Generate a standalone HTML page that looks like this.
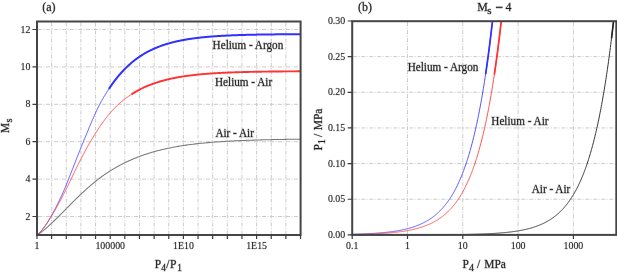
<!DOCTYPE html>
<html><head><meta charset="utf-8"><title>Shock tube performance</title>
<style>html,body{margin:0;padding:0;background:#fff;}body{width:617px;height:276px;overflow:hidden;font-family:"Liberation Serif",serif;}svg{display:block;filter:blur(0.55px);}</style>
</head><body>
<svg width="617" height="276" viewBox="0 0 617 276">
<rect width="617" height="276" fill="#fff"/>
<path d="M51.64,22.5 V234 M66.28,22.5 V234 M80.92,22.5 V234 M95.56,22.5 V234 M110.2,22.5 V234 M124.84,22.5 V234 M139.48,22.5 V234 M154.12,22.5 V234 M168.76,22.5 V234 M183.4,22.5 V234 M198.04,22.5 V234 M212.68,22.5 V234 M227.32,22.5 V234 M241.96,22.5 V234 M256.6,22.5 V234 M271.24,22.5 V234 M285.88,22.5 V234 M38,216.5 H299.6 M38,179.1 H299.6 M38,141.7 H299.6 M38,104.3 H299.6 M38,66.9 H299.6 M38,29.5 H299.6" stroke="#cbcbcb" stroke-width="1" stroke-dasharray="4,1.5,1,1.5" fill="none"/>
<path d="M407.5,22.2 V233.9 M462.8,22.2 V233.9 M518.1,22.2 V233.9 M573.4,22.2 V233.9 M353.2,199.25 H615.3 M353.2,163.6 H615.3 M353.2,127.95 H615.3 M353.2,92.3 H615.3 M353.2,56.65 H615.3" stroke="#cbcbcb" stroke-width="1" stroke-dasharray="4,1.5,1,1.5" fill="none"/>
<path d="M37,235.2 37.47,234.89 37.93,234.57 38.39,234.26 38.83,233.95 39.27,233.64 39.71,233.32 40.14,233.01 40.56,232.7 40.97,232.39 41.38,232.07 41.79,231.76 42.19,231.45 42.59,231.13 42.98,230.82 43.36,230.51 43.75,230.2 44.12,229.88 44.5,229.57 44.87,229.26 45.24,228.95 45.6,228.63 45.96,228.32 46.32,228.01 46.67,227.69 47.03,227.38 47.37,227.07 47.72,226.76 48.06,226.44 48.4,226.13 48.74,225.82 49.08,225.51 49.41,225.19 49.74,224.88 50.07,224.57 50.4,224.26 50.73,223.94 51.07,223.63 51.42,223.32 51.76,223 52.1,222.69 52.44,222.38 52.77,222.07 53.11,221.75 53.44,221.44 53.78,221.13 54.11,220.82 54.44,220.5 54.77,220.19 55.09,219.88 55.42,219.56 55.75,219.25 56.07,218.94 56.39,218.63 56.71,218.31 57.04,218 57.36,217.69 57.68,217.38 57.99,217.06 58.31,216.75 58.63,216.44 58.95,216.12 59.26,215.81 59.58,215.5 59.89,215.19 60.21,214.87 60.52,214.56 60.83,214.25 61.14,213.94 61.46,213.62 61.77,213.31 62.08,213 62.39,212.68 62.7,212.37 63.01,212.06 63.32,211.75 63.63,211.43 63.94,211.12 64.25,210.81 64.56,210.5 64.87,210.18 65.17,209.87 65.48,209.56 65.79,209.25 66.1,208.93 66.41,208.62 66.72,208.31 67.02,207.99 67.33,207.68 67.64,207.37 67.95,207.06 68.26,206.74 68.57,206.43 68.88,206.12 69.18,205.81 69.49,205.49 69.8,205.18 70.11,204.87 70.42,204.55 70.73,204.24 71.04,203.93 71.35,203.62 71.66,203.3 71.98,202.99 72.29,202.68 72.6,202.37 72.91,202.05 73.22,201.74 73.54,201.43 73.85,201.11 74.16,200.8 74.48,200.49 74.79,200.18 75.11,199.86 75.43,199.55 75.74,199.24 76.06,198.93 76.38,198.61 76.7,198.3 77.02,197.99 77.34,197.67 77.66,197.36 77.98,197.05 78.3,196.74 78.62,196.42 78.95,196.11 79.27,195.8 79.6,195.49 79.92,195.17 80.25,194.86 80.58,194.55 80.91,194.24 81.24,193.92 81.57,193.61 81.9,193.3 82.23,192.98 82.57,192.67 82.9,192.36 83.24,192.05 83.57,191.73 83.91,191.42 84.25,191.11 84.59,190.8 84.93,190.48 85.28,190.17 85.62,189.86 85.97,189.54 86.31,189.23 86.66,188.92 87.01,188.61 87.36,188.29 87.71,187.98 88.06,187.67 88.42,187.36 88.77,187.04 89.13,186.73 89.49,186.42 89.85,186.1 90.21,185.79 90.58,185.48 90.94,185.17 91.31,184.85 91.68,184.54 92.05,184.23 92.42,183.92 92.8,183.6 93.17,183.29 93.55,182.98 93.93,182.66 94.31,182.35 94.7,182.04 95.08,181.73 95.47,181.41 95.86,181.1 96.25,180.79 96.64,180.48 97.04,180.16 97.44,179.85 97.84,179.54 98.24,179.23 98.65,178.91 99.06,178.6 99.47,178.29 99.88,177.97 100.29,177.66 100.71,177.35 101.13,177.04 101.56,176.72 101.98,176.41 102.41,176.1 102.84,175.79 103.28,175.47 103.72,175.16 104.18,174.85 104.63,174.53 105.09,174.22 105.56,173.91 106.02,173.6 106.49,173.28 106.96,172.97 107.44,172.66 107.92,172.35 108.4,172.03 108.89,171.72 109.38,171.41 109.88,171.09 110.38,170.78 110.88,170.47 111.39,170.16 111.9,169.84 112.41,169.53 112.93,169.22 113.46,168.91 113.99,168.59 114.52,168.28 115.06,167.97 115.6,167.65 116.15,167.34 116.7,167.03 117.26,166.72 117.82,166.4 118.39,166.09 118.97,165.78 119.55,165.47 120.13,165.15 120.72,164.84 121.32,164.53 121.93,164.22 122.54,163.9 123.16,163.59 123.78,163.28 124.41,162.96 125.05,162.65 125.7,162.34 126.35,162.03 127.01,161.71 127.68,161.4 128.36,161.09 129.04,160.78 129.74,160.46 130.44,160.15 131.16,159.84 131.88,159.52 132.61,159.21 133.35,158.9 134.11,158.59 134.87,158.27 135.65,157.96 136.43,157.65 137.23,157.34 138.04,157.02 138.87,156.71 139.69,156.4 140.53,156.08 141.38,155.77 142.25,155.46 143.13,155.15 144.03,154.83 144.94,154.52 145.87,154.21 146.82,153.9 147.79,153.58 148.77,153.27 149.78,152.96 150.81,152.64 151.86,152.33 152.93,152.02 154.03,151.71 155.15,151.39 156.3,151.08 157.48,150.77 158.69,150.46 159.93,150.14 161.2,149.83 162.5,149.52 163.85,149.21 165.23,148.89 166.65,148.58 168.12,148.27 169.64,147.95 171.2,147.64 172.82,147.33 174.5,147.02 176.24,146.7 178.05,146.39 179.92,146.08 181.88,145.77 183.93,145.45 186.07,145.14 188.31,144.83 190.67,144.51 193.16,144.2 195.78,143.89 198.57,143.58 201.54,143.26 204.71,142.95 208.12,142.64 211.81,142.33 215.82,142.01 220.23,141.7 220.23,141.7 220.34,141.69 220.45,141.69 220.56,141.68 220.67,141.67 220.79,141.66 220.9,141.66 221.01,141.65 221.13,141.64 221.24,141.63 221.35,141.63 221.47,141.62 221.58,141.61 221.69,141.6 221.81,141.6 221.92,141.59 222.04,141.58 222.15,141.57 222.27,141.57 222.39,141.56 222.5,141.55 222.62,141.54 222.74,141.54 222.85,141.53 222.97,141.52 223.09,141.51 223.21,141.51 223.33,141.5 223.45,141.49 223.57,141.48 223.68,141.48 223.8,141.47 223.93,141.46 224.05,141.45 224.17,141.45 224.29,141.44 224.41,141.43 224.53,141.42 224.65,141.42 224.78,141.41 224.9,141.4 225.02,141.39 225.14,141.39 225.27,141.38 225.39,141.37 225.52,141.36 225.64,141.36 225.77,141.35 225.89,141.34 226.02,141.33 226.15,141.33 226.27,141.32 226.4,141.31 226.53,141.3 226.65,141.3 226.78,141.29 226.91,141.28 227.04,141.27 227.17,141.27 227.3,141.26 227.43,141.25 227.56,141.24 227.69,141.24 227.82,141.23 227.95,141.22 228.08,141.21 228.21,141.21 228.35,141.2 228.48,141.19 228.61,141.18 228.75,141.18 228.88,141.17 229.02,141.16 229.15,141.15 229.29,141.15 229.42,141.14 229.56,141.13 229.69,141.12 229.83,141.12 229.97,141.11 230.11,141.1 230.24,141.09 230.38,141.09 230.52,141.08 230.66,141.07 230.8,141.06 230.94,141.06 231.08,141.05 231.22,141.04 231.37,141.03 231.51,141.03 231.65,141.02 231.79,141.01 231.94,141 232.08,141 232.23,140.99 232.37,140.98 232.52,140.97 232.66,140.97 232.81,140.96 232.95,140.95 233.1,140.94 233.25,140.94 233.4,140.93 233.55,140.92 233.7,140.91 233.85,140.91 234,140.9 234.15,140.89 234.3,140.88 234.45,140.88 234.6,140.87 234.75,140.86 234.91,140.85 235.06,140.85 235.22,140.84 235.37,140.83 235.53,140.82 235.68,140.82 235.84,140.81 235.99,140.8 236.15,140.79 236.31,140.79 236.47,140.78 236.63,140.77 236.79,140.76 236.95,140.76 237.11,140.75 237.27,140.74 237.43,140.73 237.6,140.73 237.76,140.72 237.92,140.71 238.09,140.7 238.25,140.7 238.42,140.69 238.58,140.68 238.75,140.67 238.92,140.67 239.09,140.66 239.26,140.65 239.42,140.64 239.59,140.64 239.77,140.63 239.94,140.62 240.11,140.61 240.28,140.61 240.45,140.6 240.63,140.59 240.8,140.58 240.98,140.58 241.15,140.57 241.33,140.56 241.51,140.55 241.69,140.55 241.87,140.54 242.05,140.53 242.23,140.52 242.41,140.52 242.59,140.51 242.77,140.5 242.95,140.49 243.14,140.49 243.32,140.48 243.51,140.47 243.69,140.46 243.88,140.46 244.07,140.45 244.26,140.44 244.45,140.43 244.64,140.43 244.83,140.42 245.02,140.41 245.21,140.4 245.41,140.4 245.6,140.39 245.8,140.38 245.99,140.37 246.19,140.37 246.39,140.36 246.58,140.35 246.78,140.34 246.98,140.34 247.19,140.33 247.39,140.32 247.59,140.31 247.79,140.31 248,140.3 248.21,140.29 248.41,140.28 248.62,140.28 248.83,140.27 249.04,140.26 249.25,140.25 249.46,140.25 249.67,140.24 249.89,140.23 250.1,140.22 250.32,140.22 250.53,140.21 250.75,140.2 250.97,140.19 251.19,140.19 251.41,140.18 251.63,140.17 251.86,140.16 252.08,140.16 252.31,140.15 252.53,140.14 252.76,140.13 252.99,140.13 253.22,140.12 253.45,140.11 253.68,140.1 253.92,140.1 254.15,140.09 254.39,140.08 254.63,140.07 254.87,140.07 255.11,140.06 255.35,140.05 255.59,140.04 255.83,140.04 256.08,140.03 256.32,140.02 256.57,140.01 256.82,140.01 257.07,140 257.32,139.99 257.58,139.98 257.83,139.98 258.09,139.97 258.35,139.96 258.61,139.95 258.87,139.95 259.13,139.94 259.39,139.93 259.66,139.92 259.93,139.92 260.2,139.91 260.47,139.9 260.74,139.89 261.01,139.89 261.29,139.88 261.56,139.87 261.84,139.86 262.12,139.86 262.41,139.85 262.69,139.84 262.98,139.83 263.26,139.83 263.55,139.82 263.84,139.81 264.14,139.8 264.43,139.8 264.73,139.79 265.03,139.78 265.33,139.77 265.63,139.77 265.94,139.76 266.25,139.75 266.56,139.74 266.87,139.74 267.18,139.73 267.5,139.72 267.82,139.71 268.14,139.71 268.46,139.7 268.79,139.69 269.11,139.68 269.44,139.68 269.78,139.67 270.11,139.66 270.45,139.65 270.79,139.65 271.13,139.64 271.48,139.63 271.83,139.62 272.18,139.62 272.53,139.61 272.89,139.6 273.25,139.59 273.61,139.59 273.97,139.58 274.34,139.57 274.71,139.56 275.09,139.56 275.46,139.55 275.85,139.54 276.23,139.53 276.62,139.53 277.01,139.52 277.4,139.51 277.8,139.5 278.2,139.5 278.61,139.49 279.01,139.48 279.43,139.47 279.84,139.47 280.26,139.46 280.69,139.45 281.11,139.44 281.55,139.44 281.98,139.43 282.42,139.42 282.87,139.41 283.32,139.41 283.77,139.4 284.23,139.39 284.7,139.38 285.16,139.38 285.64,139.37 286.12,139.36 286.6,139.35 287.09,139.35 287.58,139.34 288.08,139.33 288.59,139.32 289.1,139.32 289.62,139.31 290.14,139.3 290.67,139.29 291.21,139.29 291.75,139.28 292.3,139.27 292.85,139.26 293.42,139.26 293.99,139.25 294.57,139.24 295.15,139.23 295.74,139.23 296.34,139.22 296.95,139.21 297.57,139.2 298.2,139.2 298.83,139.19 299.48,139.18 300.13,139.17" stroke="#787878" stroke-width="1.05" fill="none"/>
<path d="M37,235.2 37.7,234.56 38.37,233.92 39.01,233.28 39.63,232.63 40.22,231.99 40.8,231.35 41.36,230.71 41.9,230.07 42.42,229.43 42.93,228.78 43.43,228.14 43.92,227.5 44.39,226.86 44.86,226.22 45.31,225.58 45.75,224.93 46.19,224.29 46.61,223.65 47.03,223.01 47.44,222.37 47.85,221.73 48.24,221.09 48.63,220.44 49.02,219.8 49.4,219.16 49.77,218.52 50.14,217.88 50.5,217.24 50.86,216.59 51.23,215.95 51.6,215.31 51.97,214.67 52.33,214.03 52.69,213.39 53.05,212.74 53.4,212.1 53.75,211.46 54.1,210.82 54.44,210.18 54.78,209.54 55.12,208.9 55.45,208.25 55.78,207.61 56.11,206.97 56.44,206.33 56.76,205.69 57.08,205.05 57.4,204.4 57.72,203.76 58.04,203.12 58.35,202.48 58.66,201.84 58.97,201.2 59.28,200.55 59.59,199.91 59.89,199.27 60.2,198.63 60.5,197.99 60.8,197.35 61.1,196.7 61.4,196.06 61.69,195.42 61.99,194.78 62.28,194.14 62.58,193.5 62.87,192.86 63.16,192.21 63.45,191.57 63.74,190.93 64.03,190.29 64.31,189.65 64.6,189.01 64.88,188.36 65.14,187.72 65.4,187.08 65.66,186.44 65.92,185.8 66.18,185.16 66.44,184.51 66.7,183.87 66.95,183.23 67.21,182.59 67.46,181.95 67.72,181.31 67.97,180.67 68.23,180.02 68.48,179.38 68.74,178.74 68.99,178.1 69.24,177.46 69.49,176.82 69.74,176.17 70,175.53 70.25,174.89 70.5,174.25 70.75,173.61 71,172.97 71.25,172.32 71.5,171.68 71.75,171.04 72,170.4 72.25,169.76 72.5,169.12 72.75,168.48 73,167.83 73.25,167.19 73.5,166.55 73.75,165.91 74,165.27 74.25,164.63 74.5,163.98 74.75,163.34 75,162.7 75.25,162.06 75.5,161.42 75.75,160.78 76,160.13 76.26,159.49 76.51,158.85 76.76,158.21 77.01,157.57 77.26,156.93 77.51,156.29 77.77,155.64 78.02,155 78.27,154.36 78.53,153.72 78.78,153.08 79.04,152.44 79.29,151.79 79.55,151.15 79.8,150.51 80.06,149.87 80.31,149.23 80.57,148.59 80.83,147.94 81.09,147.3 81.35,146.66 81.61,146.02 81.87,145.38 82.13,144.74 82.39,144.09 82.65,143.45 82.91,142.81 83.17,142.17 83.44,141.53 83.7,140.89 83.97,140.25 84.23,139.6 84.5,138.96 84.77,138.32 85.04,137.68 85.31,137.04 85.58,136.4 85.85,135.75 86.12,135.11 86.39,134.47 86.67,133.83 86.94,133.19 87.22,132.55 87.48,131.9 87.73,131.26 87.99,130.62 88.24,129.98 88.5,129.34 88.76,128.7 89.02,128.06 89.28,127.41 89.55,126.77 89.81,126.13 90.07,125.49 90.34,124.85 90.61,124.21 90.88,123.56 91.15,122.92 91.42,122.28 91.69,121.64 91.97,121 92.24,120.36 92.52,119.71 92.8,119.07 93.08,118.43 93.36,117.79 93.64,117.15 93.93,116.51 94.22,115.87 94.5,115.22 94.79,114.58 95.09,113.94 95.38,113.3 95.68,112.66 95.97,112.02 96.27,111.37 96.57,110.73 96.88,110.09 97.18,109.45 97.49,108.81 97.8,108.17 98.11,107.52 98.43,106.88 98.74,106.24 99.06,105.6 99.38,104.96 99.7,104.32 100.05,103.68 100.4,103.03 100.76,102.39 101.11,101.75 101.47,101.11 101.83,100.47 102.2,99.83 102.56,99.18 102.93,98.54 103.31,97.9 103.68,97.26 104.06,96.62 104.45,95.98 104.83,95.33 105.22,94.69 105.61,94.05 106.01,93.41 106.41,92.77 106.81,92.13 107.22,91.48 107.63,90.84 108.04,90.2 108.46,89.56 108.88,88.92 109.31,88.28 109.74,87.64" stroke="#5050ff" stroke-width="1.0" fill="none"/>
<path d="M37,235.2 37.56,234.68 38.1,234.17 38.63,233.65 39.14,233.13 39.64,232.61 40.12,232.1 40.6,231.58 41.06,231.06 41.51,230.54 41.95,230.03 42.38,229.51 42.8,228.99 43.21,228.47 43.62,227.96 44.02,227.44 44.41,226.92 44.8,226.4 45.17,225.89 45.55,225.37 45.91,224.85 46.28,224.33 46.63,223.82 46.99,223.3 47.33,222.78 47.68,222.26 48.02,221.75 48.35,221.23 48.68,220.71 49.01,220.19 49.33,219.68 49.65,219.16 49.97,218.64 50.28,218.12 50.6,217.61 50.9,217.09 51.21,216.57 51.53,216.05 51.85,215.54 52.16,215.02 52.48,214.5 52.79,213.99 53.1,213.47 53.41,212.95 53.71,212.43 54.02,211.92 54.32,211.4 54.62,210.88 54.92,210.36 55.21,209.85 55.51,209.33 55.8,208.81 56.09,208.29 56.38,207.78 56.67,207.26 56.96,206.74 57.25,206.22 57.53,205.71 57.82,205.19 58.1,204.67 58.38,204.15 58.67,203.64 58.95,203.12 59.23,202.6 59.5,202.08 59.78,201.57 60.06,201.05 60.33,200.53 60.61,200.01 60.88,199.5 61.16,198.98 61.43,198.46 61.7,197.94 61.97,197.43 62.24,196.91 62.51,196.39 62.78,195.88 63.05,195.36 63.32,194.84 63.59,194.32 63.86,193.81 64.13,193.29 64.39,192.77 64.66,192.25 64.93,191.74 65.19,191.22 65.46,190.7 65.73,190.18 65.99,189.67 66.26,189.15 66.52,188.63 66.77,188.11 67.02,187.6 67.27,187.08 67.51,186.56 67.76,186.04 68.01,185.53 68.25,185.01 68.5,184.49 68.74,183.97 68.99,183.46 69.23,182.94 69.48,182.42 69.73,181.9 69.97,181.39 70.22,180.87 70.46,180.35 70.71,179.83 70.96,179.32 71.2,178.8 71.45,178.28 71.7,177.76 71.94,177.25 72.19,176.73 72.44,176.21 72.69,175.7 72.93,175.18 73.18,174.66 73.43,174.14 73.68,173.63 73.93,173.11 74.18,172.59 74.43,172.07 74.68,171.56 74.93,171.04 75.18,170.52 75.43,170 75.69,169.49 75.94,168.97 76.19,168.45 76.45,167.93 76.7,167.42 76.95,166.9 77.21,166.38 77.46,165.86 77.72,165.35 77.98,164.83 78.24,164.31 78.49,163.79 78.75,163.28 79.01,162.76 79.27,162.24 79.53,161.72 79.79,161.21 80.06,160.69 80.32,160.17 80.58,159.65 80.85,159.14 81.11,158.62 81.38,158.1 81.65,157.58 81.92,157.07 82.18,156.55 82.45,156.03 82.73,155.52 83,155 83.27,154.48 83.54,153.96 83.82,153.45 84.09,152.93 84.37,152.41 84.65,151.89 84.93,151.38 85.21,150.86 85.49,150.34 85.77,149.82 86.05,149.31 86.34,148.79 86.62,148.27 86.91,147.75 87.2,147.24 87.49,146.72 87.78,146.2 88.07,145.68 88.37,145.17 88.66,144.65 88.96,144.13 89.26,143.61 89.56,143.1 89.86,142.58 90.16,142.06 90.46,141.54 90.77,141.03 91.08,140.51 91.38,139.99 91.69,139.47 92.01,138.96 92.32,138.44 92.64,137.92 92.95,137.41 93.27,136.89 93.59,136.37 93.92,135.85 94.24,135.34 94.57,134.82 94.9,134.3 95.23,133.78 95.56,133.27 95.9,132.75 96.23,132.23 96.55,131.71 96.88,131.2 97.2,130.68 97.53,130.16 97.86,129.64 98.2,129.13 98.53,128.61 98.87,128.09 99.21,127.57 99.56,127.06 99.9,126.54 100.25,126.02 100.6,125.5 100.96,124.99 101.32,124.47 101.68,123.95 102.04,123.43 102.41,122.92 102.78,122.4 103.15,121.88 103.53,121.36 103.91,120.85 104.3,120.33 104.68,119.81 105.07,119.29 105.47,118.78 105.87,118.26 106.27,117.74 106.68,117.23 107.09,116.71 107.51,116.19 107.92,115.67 108.35,115.16 108.78,114.64 109.21,114.12 109.65,113.6 110.09,113.09 110.54,112.57 110.99,112.05 111.45,111.53 111.92,111.02 112.39,110.5 112.86,109.98 113.34,109.46 113.83,108.95 114.33,108.43 114.83,107.91 115.33,107.39 115.85,106.88 116.37,106.36 116.89,105.84 117.43,105.32 117.97,104.81 118.52,104.29 119.1,103.77 119.69,103.25 120.28,102.74 120.89,102.22 121.5,101.7 122.12,101.18 122.76,100.67 123.4,100.15 124.05,99.63 124.72,99.11 125.4,98.6 126.08,98.08 126.79,97.56 127.5,97.05 128.23,96.53 128.97,96.01 129.73,95.49 130.5,94.98 131.29,94.46" stroke="#ff5050" stroke-width="1.0" fill="none"/>
<path d="M108.88,88.92 109.31,88.28 109.74,87.64 110.18,86.99 110.61,86.35 111.06,85.71 111.51,85.07 111.96,84.43 112.42,83.79 112.89,83.14 113.36,82.5 113.83,81.86 114.31,81.22 114.8,80.58 115.29,79.94 115.79,79.29 116.29,78.65 116.81,78.01 117.32,77.37 117.85,76.73 118.38,76.09 118.92,75.45 119.47,74.8 120.02,74.16 120.59,73.52 121.16,72.88 121.74,72.24 122.32,71.6 122.92,70.95 123.53,70.31 124.15,69.67 124.77,69.03 125.41,68.39 126.06,67.75 126.72,67.1 127.4,66.46 128.08,65.82 128.78,65.18 129.49,64.54 130.22,63.9 130.96,63.26 131.71,62.61 132.48,61.97 133.27,61.33 134.08,60.69 134.9,60.05 135.75,59.41 136.61,58.76 137.5,58.12 138.41,57.48 139.34,56.84 140.3,56.2 141.28,55.56 142.3,54.91 143.34,54.27 144.41,53.63 145.52,52.99 146.67,52.35 147.86,51.71 149.08,51.07 150.36,50.42 151.68,49.78 153.06,49.14 154.49,48.5 155.99,47.86 157.55,47.22 159.2,46.57 160.92,45.93 162.74,45.29 164.66,44.65 166.71,44.01 168.88,43.37 168.88,43.37 168.93,43.35 168.99,43.33 169.04,43.32 169.1,43.3 169.15,43.29 169.21,43.27 169.26,43.26 169.32,43.24 169.37,43.23 169.43,43.21 169.49,43.19 169.54,43.18 169.6,43.16 169.65,43.15 169.71,43.13 169.77,43.12 169.82,43.1 169.88,43.09 169.93,43.07 169.99,43.05 170.05,43.04 170.1,43.02 170.16,43.01 170.22,42.99 170.27,42.98 170.33,42.96 170.39,42.94 170.45,42.93 170.5,42.91 170.56,42.9 170.62,42.88 170.68,42.87 170.73,42.85 170.79,42.84 170.85,42.82 170.91,42.8 170.96,42.79 171.02,42.77 171.08,42.76 171.14,42.74 171.2,42.73 171.26,42.71 171.32,42.69 171.37,42.68 171.43,42.66 171.49,42.65 171.55,42.63 171.61,42.62 171.67,42.6 171.73,42.59 171.79,42.57 171.85,42.55 171.91,42.54 171.97,42.52 172.03,42.51 172.09,42.49 172.15,42.48 172.21,42.46 172.27,42.45 172.33,42.43 172.39,42.41 172.45,42.4 172.51,42.38 172.57,42.37 172.64,42.35 172.7,42.34 172.76,42.32 172.82,42.3 172.88,42.29 172.94,42.27 173,42.26 173.07,42.24 173.13,42.23 173.19,42.21 173.25,42.2 173.32,42.18 173.38,42.16 173.44,42.15 173.5,42.13 173.57,42.12 173.63,42.1 173.69,42.09 173.76,42.07 173.82,42.05 173.88,42.04 173.95,42.02 174.01,42.01 174.07,41.99 174.14,41.98 174.2,41.96 174.27,41.95 174.33,41.93 174.39,41.91 174.46,41.9 174.52,41.88 174.59,41.87 174.65,41.85 174.72,41.84 174.78,41.82 174.85,41.81 174.91,41.79 174.98,41.77 175.05,41.76 175.11,41.74 175.18,41.73 175.24,41.71 175.31,41.7 175.38,41.68 175.44,41.66 175.51,41.65 175.58,41.63 175.64,41.62 175.71,41.6 175.78,41.59 175.84,41.57 175.91,41.56 175.98,41.54 176.05,41.52 176.12,41.51 176.18,41.49 176.25,41.48 176.32,41.46 176.39,41.45 176.46,41.43 176.53,41.41 176.59,41.4 176.66,41.38 176.73,41.37 176.8,41.35 176.87,41.34 176.94,41.32 177.01,41.31 177.08,41.29 177.15,41.27 177.22,41.26 177.29,41.24 177.36,41.23 177.43,41.21 177.5,41.2 177.57,41.18 177.65,41.17 177.72,41.15 177.79,41.13 177.86,41.12 177.93,41.1 178,41.09 178.08,41.07 178.15,41.06 178.22,41.04 178.29,41.02 178.37,41.01 178.44,40.99 178.51,40.98 178.58,40.96 178.66,40.95 178.73,40.93 178.8,40.92 178.88,40.9 178.95,40.88 179.03,40.87 179.1,40.85 179.18,40.84 179.25,40.82 179.32,40.81 179.4,40.79 179.47,40.77 179.55,40.76 179.63,40.74 179.7,40.73 179.78,40.71 179.85,40.7 179.93,40.68 180.01,40.67 180.08,40.65 180.16,40.63 180.24,40.62 180.31,40.6 180.39,40.59 180.47,40.57 180.55,40.56 180.62,40.54 180.7,40.53 180.78,40.51 180.86,40.49 180.94,40.48 181.01,40.46 181.09,40.45 181.17,40.43 181.25,40.42 181.33,40.4 181.41,40.38 181.49,40.37 181.57,40.35 181.65,40.34 181.73,40.32 181.81,40.31 181.89,40.29 181.97,40.28 182.06,40.26 182.14,40.24 182.22,40.23 182.3,40.21 182.38,40.2 182.47,40.18 182.55,40.17 182.63,40.15 182.71,40.13 182.8,40.12 182.88,40.1 182.96,40.09 183.05,40.07 183.13,40.06 183.22,40.04 183.3,40.03 183.38,40.01 183.47,39.99 183.55,39.98 183.64,39.96 183.72,39.95 183.81,39.93 183.9,39.92 183.98,39.9 184.07,39.89 184.16,39.87 184.24,39.85 184.33,39.84 184.42,39.82 184.5,39.81 184.59,39.79 184.68,39.78 184.77,39.76 184.86,39.74 184.95,39.73 185.03,39.71 185.12,39.7 185.21,39.68 185.3,39.67 185.39,39.65 185.48,39.64 185.57,39.62 185.66,39.6 185.75,39.59 185.85,39.57 185.94,39.56 186.03,39.54 186.12,39.53 186.21,39.51 186.31,39.5 186.4,39.48 186.49,39.46 186.58,39.45 186.68,39.43 186.77,39.42 186.87,39.4 186.96,39.39 187.05,39.37 187.15,39.35 187.24,39.34 187.34,39.32 187.44,39.31 187.53,39.29 187.63,39.28 187.72,39.26 187.82,39.25 187.92,39.23 188.02,39.21 188.11,39.2 188.21,39.18 188.31,39.17 188.41,39.15 188.51,39.14 188.61,39.12 188.71,39.1 188.81,39.09 188.91,39.07 189.01,39.06 189.11,39.04 189.21,39.03 189.31,39.01 189.41,39 189.51,38.98 189.62,38.96 189.72,38.95 189.82,38.93 189.92,38.92 190.03,38.9 190.13,38.89 190.24,38.87 190.34,38.86 190.44,38.84 190.55,38.82 190.66,38.81 190.76,38.79 190.87,38.78 190.97,38.76 191.08,38.75 191.19,38.73 191.3,38.71 191.4,38.7 191.51,38.68 191.62,38.67 191.73,38.65 191.84,38.64 191.95,38.62 192.06,38.61 192.17,38.59 192.28,38.57 192.39,38.56 192.5,38.54 192.62,38.53 192.73,38.51 192.84,38.5 192.95,38.48 193.07,38.46 193.18,38.45 193.3,38.43 193.41,38.42 193.53,38.4 193.64,38.39 193.76,38.37 193.88,38.36 193.99,38.34 194.11,38.32 194.23,38.31 194.35,38.29 194.46,38.28 194.58,38.26 194.7,38.25 194.82,38.23 194.94,38.22 195.06,38.2 195.18,38.18 195.31,38.17 195.43,38.15 195.55,38.14 195.67,38.12 195.8,38.11 195.92,38.09 196.05,38.07 196.17,38.06 196.3,38.04 196.42,38.03 196.55,38.01 196.68,38 196.8,37.98 196.93,37.97 197.06,37.95 197.19,37.93 197.32,37.92 197.45,37.9 197.58,37.89 197.71,37.87 197.84,37.86 197.97,37.84 198.1,37.82 198.24,37.81 198.37,37.79 198.5,37.78 198.64,37.76 198.77,37.75 198.91,37.73 199.05,37.72 199.18,37.7 199.32,37.68 199.46,37.67 199.6,37.65 199.74,37.64 199.88,37.62 200.02,37.61 200.16,37.59 200.3,37.58 200.44,37.56 200.59,37.54 200.73,37.53 200.87,37.51 201.02,37.5 201.16,37.48 201.31,37.47 201.46,37.45 201.61,37.43 201.75,37.42 201.9,37.4 202.05,37.39 202.2,37.37 202.35,37.36 202.5,37.34 202.66,37.33 202.81,37.31 202.96,37.29 203.12,37.28 203.27,37.26 203.43,37.25 203.59,37.23 203.74,37.22 203.9,37.2 204.06,37.18 204.22,37.17 204.38,37.15 204.54,37.14 204.71,37.12 204.87,37.11 205.03,37.09 205.2,37.08 205.36,37.06 205.53,37.04 205.7,37.03 205.86,37.01 206.03,37 206.2,36.98 206.37,36.97 206.54,36.95 206.72,36.94 206.89,36.92 207.07,36.9 207.24,36.89 207.42,36.87 207.59,36.86 207.77,36.84 207.95,36.83 208.13,36.81 208.31,36.79 208.5,36.78 208.68,36.76 208.86,36.75 209.05,36.73 209.23,36.72 209.42,36.7 209.61,36.69 209.8,36.67 209.99,36.65 210.18,36.64 210.38,36.62 210.57,36.61 210.77,36.59 210.96,36.58 211.16,36.56 211.36,36.54 211.56,36.53 211.76,36.51 211.96,36.5 212.17,36.48 212.37,36.47 212.58,36.45 212.79,36.44 213,36.42 213.21,36.4 213.42,36.39 213.63,36.37 213.85,36.36 214.06,36.34 214.28,36.33 214.5,36.31 214.72,36.3 214.94,36.28 215.17,36.26 215.39,36.25 215.62,36.23 215.85,36.22 216.08,36.2 216.31,36.19 216.54,36.17 216.77,36.15 217.01,36.14 217.25,36.12 217.49,36.11 217.73,36.09 217.98,36.08 218.22,36.06 218.47,36.05 218.72,36.03 218.97,36.01 219.22,36 219.48,35.98 219.74,35.97 220,35.95 220.26,35.94 220.52,35.92 220.79,35.9 221.05,35.89 221.32,35.87 221.6,35.86 221.87,35.84 222.15,35.83 222.43,35.81 222.71,35.8 222.99,35.78 223.28,35.76 223.57,35.75 223.86,35.73 224.16,35.72 224.46,35.7 224.76,35.69 225.06,35.67 225.36,35.66 225.67,35.64 225.99,35.62 226.3,35.61 226.62,35.59 226.94,35.58 227.26,35.56 227.59,35.55 227.92,35.53 228.26,35.51 228.59,35.5 228.94,35.48 229.28,35.47 229.63,35.45 229.98,35.44 230.34,35.42 230.7,35.41 231.06,35.39 231.43,35.37 231.81,35.36 232.18,35.34 232.56,35.33 232.95,35.31 233.34,35.3 233.74,35.28 234.14,35.26 234.54,35.25 234.96,35.23 235.37,35.22 235.79,35.2 236.22,35.19 236.65,35.17 237.09,35.16 237.54,35.14 237.99,35.12 238.44,35.11 238.91,35.09 239.38,35.08 239.86,35.06 240.34,35.05 240.83,35.03 241.33,35.02 241.84,35 242.36,34.98 242.88,34.97 243.41,34.95 243.96,34.94 244.51,34.92 245.07,34.91 245.64,34.89 246.22,34.87 246.81,34.86 247.41,34.84 248.03,34.83 248.65,34.81 249.29,34.8 249.94,34.78 250.61,34.77 251.29,34.75 251.98,34.73 252.69,34.72 253.41,34.7 254.15,34.69 254.91,34.67 255.69,34.66 256.48,34.64 257.3,34.62 258.13,34.61 258.99,34.59 259.88,34.58 260.78,34.56 261.72,34.55 262.68,34.53 263.67,34.52 264.69,34.5 265.75,34.48 266.84,34.47 267.97,34.45 269.14,34.44 270.36,34.42 271.62,34.41 272.94,34.39 274.31,34.38 275.74,34.36 277.24,34.34 278.81,34.33 280.46,34.31 282.2,34.3 284.04,34.28 285.99,34.27 288.07,34.25 290.29,34.23 292.68,34.22 295.25,34.2 298.05,34.19 300.6,34.17" stroke="#3030ff" stroke-width="2.0" fill="none"/>
<path d="M131.29,94.46 132.09,93.94 132.91,93.42 133.75,92.91 134.61,92.39 135.49,91.87 136.39,91.35 137.32,90.84 138.26,90.32 139.24,89.8 140.23,89.28 141.26,88.77 142.31,88.25 143.4,87.73 144.52,87.21 145.67,86.7 146.87,86.18 148.1,85.66 149.38,85.14 150.7,84.63 152.07,84.11 153.5,83.59 154.99,83.07 156.54,82.56 158.16,82.04 159.86,81.52 161.64,81 163.52,80.49 163.52,80.49 163.57,80.47 163.63,80.46 163.69,80.44 163.75,80.42 163.81,80.41 163.87,80.39 163.92,80.38 163.98,80.36 164.04,80.35 164.1,80.33 164.16,80.32 164.22,80.3 164.28,80.28 164.34,80.27 164.4,80.25 164.46,80.24 164.52,80.22 164.58,80.21 164.64,80.19 164.7,80.18 164.76,80.16 164.82,80.14 164.88,80.13 164.94,80.11 165,80.1 165.06,80.08 165.12,80.07 165.18,80.05 165.24,80.03 165.3,80.02 165.37,80 165.43,79.99 165.49,79.97 165.55,79.96 165.61,79.94 165.67,79.93 165.73,79.91 165.8,79.89 165.86,79.88 165.92,79.86 165.98,79.85 166.05,79.83 166.11,79.82 166.17,79.8 166.23,79.78 166.3,79.77 166.36,79.75 166.42,79.74 166.49,79.72 166.55,79.71 166.61,79.69 166.68,79.68 166.74,79.66 166.8,79.64 166.87,79.63 166.93,79.61 167,79.6 167.06,79.58 167.12,79.57 167.19,79.55 167.25,79.54 167.32,79.52 167.38,79.5 167.45,79.49 167.51,79.47 167.58,79.46 167.64,79.44 167.71,79.43 167.77,79.41 167.84,79.39 167.9,79.38 167.97,79.36 168.04,79.35 168.1,79.33 168.17,79.32 168.24,79.3 168.3,79.29 168.37,79.27 168.44,79.25 168.5,79.24 168.57,79.22 168.64,79.21 168.7,79.19 168.77,79.18 168.84,79.16 168.91,79.14 168.97,79.13 169.04,79.11 169.11,79.1 169.18,79.08 169.25,79.07 169.32,79.05 169.38,79.04 169.45,79.02 169.52,79 169.59,78.99 169.66,78.97 169.73,78.96 169.8,78.94 169.87,78.93 169.94,78.91 170.01,78.9 170.08,78.88 170.15,78.86 170.22,78.85 170.29,78.83 170.36,78.82 170.43,78.8 170.5,78.79 170.57,78.77 170.64,78.75 170.71,78.74 170.78,78.72 170.86,78.71 170.93,78.69 171,78.68 171.07,78.66 171.14,78.65 171.21,78.63 171.29,78.61 171.36,78.6 171.43,78.58 171.51,78.57 171.58,78.55 171.65,78.54 171.72,78.52 171.8,78.5 171.87,78.49 171.95,78.47 172.02,78.46 172.09,78.44 172.17,78.43 172.24,78.41 172.32,78.4 172.39,78.38 172.47,78.36 172.54,78.35 172.62,78.33 172.69,78.32 172.77,78.3 172.84,78.29 172.92,78.27 172.99,78.26 173.07,78.24 173.15,78.22 173.22,78.21 173.3,78.19 173.38,78.18 173.45,78.16 173.53,78.15 173.61,78.13 173.69,78.11 173.76,78.1 173.84,78.08 173.92,78.07 174,78.05 174.08,78.04 174.15,78.02 174.23,78.01 174.31,77.99 174.39,77.97 174.47,77.96 174.55,77.94 174.63,77.93 174.71,77.91 174.79,77.9 174.87,77.88 174.95,77.86 175.03,77.85 175.11,77.83 175.19,77.82 175.27,77.8 175.35,77.79 175.43,77.77 175.52,77.76 175.6,77.74 175.68,77.72 175.76,77.71 175.84,77.69 175.93,77.68 176.01,77.66 176.09,77.65 176.18,77.63 176.26,77.62 176.34,77.6 176.43,77.58 176.51,77.57 176.59,77.55 176.68,77.54 176.76,77.52 176.85,77.51 176.93,77.49 177.02,77.47 177.1,77.46 177.19,77.44 177.28,77.43 177.36,77.41 177.45,77.4 177.53,77.38 177.62,77.37 177.71,77.35 177.79,77.33 177.88,77.32 177.97,77.3 178.06,77.29 178.15,77.27 178.23,77.26 178.32,77.24 178.41,77.22 178.5,77.21 178.59,77.19 178.68,77.18 178.77,77.16 178.86,77.15 178.95,77.13 179.04,77.12 179.13,77.1 179.22,77.08 179.31,77.07 179.4,77.05 179.49,77.04 179.58,77.02 179.68,77.01 179.77,76.99 179.86,76.98 179.95,76.96 180.05,76.94 180.14,76.93 180.23,76.91 180.33,76.9 180.42,76.88 180.51,76.87 180.61,76.85 180.7,76.83 180.8,76.82 180.89,76.8 180.99,76.79 181.08,76.77 181.18,76.76 181.28,76.74 181.37,76.73 181.47,76.71 181.57,76.69 181.66,76.68 181.76,76.66 181.86,76.65 181.96,76.63 182.06,76.62 182.15,76.6 182.25,76.58 182.35,76.57 182.45,76.55 182.55,76.54 182.65,76.52 182.75,76.51 182.85,76.49 182.95,76.48 183.05,76.46 183.16,76.44 183.26,76.43 183.36,76.41 183.46,76.4 183.56,76.38 183.67,76.37 183.77,76.35 183.87,76.34 183.98,76.32 184.08,76.3 184.19,76.29 184.29,76.27 184.4,76.26 184.5,76.24 184.61,76.23 184.71,76.21 184.82,76.19 184.93,76.18 185.03,76.16 185.14,76.15 185.25,76.13 185.36,76.12 185.47,76.1 185.58,76.09 185.68,76.07 185.79,76.05 185.9,76.04 186.01,76.02 186.12,76.01 186.24,75.99 186.35,75.98 186.46,75.96 186.57,75.94 186.68,75.93 186.79,75.91 186.91,75.9 187.02,75.88 187.13,75.87 187.25,75.85 187.36,75.84 187.48,75.82 187.59,75.8 187.71,75.79 187.83,75.77 187.94,75.76 188.06,75.74 188.18,75.73 188.29,75.71 188.41,75.7 188.53,75.68 188.65,75.66 188.77,75.65 188.89,75.63 189.01,75.62 189.13,75.6 189.25,75.59 189.37,75.57 189.49,75.55 189.61,75.54 189.74,75.52 189.86,75.51 189.98,75.49 190.11,75.48 190.23,75.46 190.36,75.45 190.48,75.43 190.61,75.41 190.73,75.4 190.86,75.38 190.99,75.37 191.11,75.35 191.24,75.34 191.37,75.32 191.5,75.31 191.63,75.29 191.76,75.27 191.89,75.26 192.02,75.24 192.15,75.23 192.28,75.21 192.41,75.2 192.55,75.18 192.68,75.16 192.81,75.15 192.95,75.13 193.08,75.12 193.22,75.1 193.36,75.09 193.49,75.07 193.63,75.06 193.77,75.04 193.9,75.02 194.04,75.01 194.18,74.99 194.32,74.98 194.46,74.96 194.6,74.95 194.75,74.93 194.89,74.91 195.03,74.9 195.17,74.88 195.32,74.87 195.46,74.85 195.61,74.84 195.75,74.82 195.9,74.81 196.05,74.79 196.19,74.77 196.34,74.76 196.49,74.74 196.64,74.73 196.79,74.71 196.94,74.7 197.09,74.68 197.24,74.67 197.4,74.65 197.55,74.63 197.7,74.62 197.86,74.6 198.01,74.59 198.17,74.57 198.33,74.56 198.49,74.54 198.64,74.52 198.8,74.51 198.96,74.49 199.12,74.48 199.28,74.46 199.45,74.45 199.61,74.43 199.77,74.42 199.94,74.4 200.1,74.38 200.27,74.37 200.43,74.35 200.6,74.34 200.77,74.32 200.94,74.31 201.11,74.29 201.28,74.27 201.45,74.26 201.62,74.24 201.8,74.23 201.97,74.21 202.15,74.2 202.32,74.18 202.5,74.17 202.68,74.15 202.86,74.13 203.04,74.12 203.22,74.1 203.4,74.09 203.58,74.07 203.76,74.06 203.95,74.04 204.13,74.03 204.32,74.01 204.51,73.99 204.7,73.98 204.89,73.96 205.08,73.95 205.27,73.93 205.46,73.92 205.65,73.9 205.85,73.88 206.05,73.87 206.24,73.85 206.44,73.84 206.64,73.82 206.84,73.81 207.04,73.79 207.25,73.78 207.45,73.76 207.65,73.74 207.86,73.73 208.07,73.71 208.28,73.7 208.49,73.68 208.7,73.67 208.91,73.65 209.13,73.63 209.34,73.62 209.56,73.6 209.78,73.59 210,73.57 210.22,73.56 210.44,73.54 210.66,73.53 210.89,73.51 211.12,73.49 211.35,73.48 211.58,73.46 211.81,73.45 212.04,73.43 212.27,73.42 212.51,73.4 212.75,73.39 212.99,73.37 213.23,73.35 213.47,73.34 213.72,73.32 213.96,73.31 214.21,73.29 214.46,73.28 214.71,73.26 214.97,73.24 215.22,73.23 215.48,73.21 215.74,73.2 216,73.18 216.26,73.17 216.53,73.15 216.79,73.14 217.06,73.12 217.33,73.1 217.61,73.09 217.88,73.07 218.16,73.06 218.44,73.04 218.73,73.03 219.01,73.01 219.3,72.99 219.59,72.98 219.88,72.96 220.17,72.95 220.47,72.93 220.77,72.92 221.07,72.9 221.38,72.89 221.69,72.87 222,72.85 222.31,72.84 222.63,72.82 222.95,72.81 223.27,72.79 223.59,72.78 223.92,72.76 224.25,72.75 224.59,72.73 224.93,72.71 225.27,72.7 225.61,72.68 225.96,72.67 226.31,72.65 226.67,72.64 227.03,72.62 227.39,72.6 227.76,72.59 228.13,72.57 228.5,72.56 228.88,72.54 229.27,72.53 229.65,72.51 230.05,72.5 230.44,72.48 230.84,72.46 231.25,72.45 231.66,72.43 232.08,72.42 232.5,72.4 232.92,72.39 233.36,72.37 233.79,72.35 234.23,72.34 234.68,72.32 235.14,72.31 235.6,72.29 236.06,72.28 236.54,72.26 237.02,72.25 237.5,72.23 238,72.21 238.5,72.2 239,72.18 239.52,72.17 240.04,72.15 240.58,72.14 241.12,72.12 241.66,72.11 242.22,72.09 242.79,72.07 243.36,72.06 243.95,72.04 244.55,72.03 245.15,72.01 245.77,72 246.4,71.98 247.04,71.96 247.69,71.95 248.36,71.93 249.04,71.92 249.73,71.9 250.44,71.89 251.16,71.87 251.89,71.86 252.65,71.84 253.42,71.82 254.2,71.81 255.01,71.79 255.84,71.78 256.68,71.76 257.55,71.75 258.44,71.73 259.35,71.71 260.29,71.7 261.26,71.68 262.25,71.67 263.27,71.65 264.33,71.64 265.41,71.62 266.54,71.61 267.7,71.59 268.9,71.57 270.14,71.56 271.44,71.54 272.78,71.53 274.18,71.51 275.63,71.5 277.16,71.48 278.75,71.47 280.42,71.45 282.18,71.43 284.03,71.42 285.98,71.4 288.06,71.39 290.27,71.37 292.63,71.36 295.17,71.34 297.91,71.32 300.6,71.31" stroke="#ff3333" stroke-width="1.9" fill="none"/>
<path d="M352.2,234.9 352.58,234.9 352.96,234.9 353.33,234.9 353.71,234.9 354.09,234.9 354.47,234.9 354.85,234.9 355.22,234.9 355.6,234.9 355.98,234.9 356.36,234.9 356.74,234.9 357.11,234.9 357.49,234.89 357.87,234.89 358.25,234.89 358.63,234.89 359,234.89 359.38,234.89 359.76,234.89 360.14,234.89 360.52,234.89 360.89,234.89 361.27,234.89 361.65,234.89 362.03,234.89 362.41,234.89 362.78,234.89 363.16,234.89 363.54,234.89 363.92,234.89 364.3,234.89 364.67,234.89 365.05,234.89 365.43,234.89 365.81,234.89 366.19,234.89 366.56,234.89 366.94,234.89 367.32,234.89 367.7,234.89 368.08,234.89 368.45,234.89 368.83,234.89 369.21,234.89 369.59,234.89 369.97,234.89 370.34,234.89 370.72,234.89 371.1,234.89 371.48,234.89 371.86,234.89 372.23,234.89 372.61,234.89 372.99,234.89 373.37,234.89 373.75,234.89 374.12,234.89 374.5,234.89 374.88,234.89 375.26,234.89 375.64,234.89 376.01,234.89 376.39,234.89 376.77,234.89 377.15,234.89 377.53,234.89 377.9,234.89 378.28,234.89 378.66,234.89 379.04,234.89 379.42,234.89 379.8,234.89 380.17,234.89 380.55,234.89 380.93,234.89 381.31,234.89 381.69,234.89 382.06,234.89 382.44,234.89 382.82,234.89 383.2,234.89 383.58,234.89 383.95,234.88 384.33,234.88 384.71,234.88 385.09,234.88 385.47,234.88 385.84,234.88 386.22,234.88 386.6,234.88 386.98,234.88 387.36,234.88 387.73,234.88 388.11,234.88 388.49,234.88 388.87,234.88 389.25,234.88 389.62,234.88 390,234.88 390.38,234.88 390.76,234.88 391.14,234.88 391.51,234.88 391.89,234.88 392.27,234.88 392.65,234.88 393.03,234.88 393.4,234.88 393.78,234.88 394.16,234.88 394.54,234.88 394.92,234.88 395.29,234.88 395.67,234.88 396.05,234.88 396.43,234.87 396.81,234.87 397.18,234.87 397.56,234.87 397.94,234.87 398.32,234.87 398.7,234.87 399.07,234.87 399.45,234.87 399.83,234.87 400.21,234.87 400.59,234.87 400.96,234.87 401.34,234.87 401.72,234.87 402.1,234.87 402.48,234.87 402.85,234.87 403.23,234.87 403.61,234.87 403.99,234.87 404.37,234.86 404.74,234.86 405.12,234.86 405.5,234.86 405.88,234.86 406.26,234.86 406.63,234.86 407.01,234.86 407.39,234.86 407.77,234.86 408.15,234.86 408.52,234.86 408.9,234.86 409.28,234.86 409.66,234.86 410.04,234.86 410.41,234.85 410.79,234.85 411.17,234.85 411.55,234.85 411.93,234.85 412.3,234.85 412.68,234.85 413.06,234.85 413.44,234.85 413.82,234.85 414.19,234.85 414.57,234.85 414.95,234.85 415.33,234.84 415.71,234.84 416.08,234.84 416.46,234.84 416.84,234.84 417.22,234.84 417.6,234.84 417.97,234.84 418.35,234.84 418.73,234.84 419.11,234.83 419.49,234.83 419.86,234.83 420.24,234.83 420.62,234.83 421,234.83 421.38,234.83 421.75,234.83 422.13,234.83 422.51,234.82 422.89,234.82 423.27,234.82 423.64,234.82 424.02,234.82 424.4,234.82 424.78,234.82 425.16,234.82 425.53,234.81 425.91,234.81 426.29,234.81 426.67,234.81 427.05,234.81 427.42,234.81 427.8,234.81 428.18,234.8 428.56,234.8 428.94,234.8 429.31,234.8 429.69,234.8 430.07,234.8 430.45,234.8 430.83,234.79 431.2,234.79 431.58,234.79 431.96,234.79 432.34,234.79 432.72,234.79 433.09,234.78 433.47,234.78 433.85,234.78 434.23,234.78 434.61,234.78 434.99,234.77 435.36,234.77 435.74,234.77 436.12,234.77 436.5,234.77 436.88,234.76 437.25,234.76 437.63,234.76 438.01,234.76 438.39,234.75 438.77,234.75 439.14,234.75 439.52,234.75 439.9,234.75 440.28,234.74 440.66,234.74 441.03,234.74 441.41,234.74 441.79,234.73 442.17,234.73 442.55,234.73 442.92,234.72 443.3,234.72 443.68,234.72 444.06,234.72 444.44,234.71 444.81,234.71 445.19,234.71 445.57,234.7 445.95,234.7 446.33,234.7 446.7,234.69 447.08,234.69 447.46,234.69 447.84,234.68 448.22,234.68 448.59,234.68 448.97,234.67 449.35,234.67 449.73,234.67 450.11,234.66 450.48,234.66 450.86,234.66 451.24,234.65 451.62,234.65 452,234.64 452.37,234.64 452.75,234.64 453.13,234.63 453.51,234.63 453.89,234.62 454.26,234.62 454.64,234.61 455.02,234.61 455.4,234.6 455.78,234.6 456.15,234.6 456.53,234.59 456.91,234.59 457.29,234.58 457.67,234.58 458.04,234.57 458.42,234.57 458.8,234.56 459.18,234.55 459.56,234.55 459.93,234.54 460.31,234.54 460.69,234.53 461.07,234.53 461.45,234.52 461.82,234.51 462.2,234.51 462.58,234.5 462.96,234.5 463.34,234.49 463.71,234.48 464.09,234.48 464.47,234.47 464.85,234.46 465.23,234.46 465.6,234.45 465.98,234.44 466.36,234.43 466.74,234.43 467.12,234.42 467.49,234.41 467.87,234.4 468.25,234.4 468.63,234.39 469.01,234.38 469.38,234.37 469.76,234.36 470.14,234.35 470.52,234.35 470.9,234.34 471.27,234.33 471.65,234.32 472.03,234.31 472.41,234.3 472.79,234.29 473.16,234.28 473.54,234.27 473.92,234.26 474.3,234.25 474.68,234.24 475.05,234.23 475.43,234.22 475.81,234.21 476.19,234.2 476.57,234.19 476.94,234.18 477.32,234.16 477.7,234.15 478.08,234.14 478.46,234.13 478.83,234.12 479.21,234.1 479.59,234.09 479.97,234.08 480.35,234.07 480.72,234.05 481.1,234.04 481.48,234.03 481.86,234.01 482.24,234 482.61,233.98 482.99,233.97 483.37,233.95 483.75,233.94 484.13,233.92 484.5,233.91 484.88,233.89 485.26,233.88 485.64,233.86 486.02,233.84 486.39,233.83 486.77,233.81 487.15,233.79 487.53,233.77 487.91,233.76 488.29,233.74 488.66,233.72 489.04,233.7 489.42,233.68 489.8,233.66 490.18,233.64 490.55,233.62 490.93,233.6 491.31,233.58 491.69,233.56 492.07,233.54 492.44,233.52 492.82,233.5 493.2,233.47 493.58,233.45 493.96,233.43 494.33,233.41 494.71,233.38 495.09,233.36 495.47,233.33 495.85,233.31 496.22,233.28 496.6,233.26 496.98,233.23 497.36,233.21 497.74,233.18 498.11,233.15 498.49,233.12 498.87,233.1 499.25,233.07 499.63,233.04 500,233.01 500.38,232.98 500.76,232.95 501.14,232.92 501.52,232.89 501.89,232.85 502.27,232.82 502.65,232.79 503.03,232.75 503.41,232.72 503.78,232.69 504.16,232.65 504.54,232.61 504.92,232.58 505.3,232.54 505.67,232.5 506.05,232.47 506.43,232.43 506.81,232.39 507.19,232.35 507.56,232.31 507.94,232.27 508.32,232.23 508.7,232.18 509.08,232.14 509.45,232.1 509.83,232.05 510.21,232.01 510.59,231.96 510.97,231.91 511.34,231.87 511.72,231.82 512.1,231.77 512.48,231.72 512.86,231.67 513.23,231.62 513.61,231.57 513.99,231.51 514.37,231.46 514.75,231.4 515.12,231.35 515.5,231.29 515.88,231.24 516.26,231.18 516.64,231.12 517.01,231.06 517.39,231 517.77,230.94 518.15,230.87 518.53,230.81 518.9,230.74 519.28,230.68 519.66,230.61 520.04,230.54 520.42,230.47 520.79,230.4 521.17,230.33 521.55,230.26 521.93,230.19 522.31,230.11 522.68,230.04 523.06,229.96 523.44,229.88 523.82,229.8 524.2,229.72 524.57,229.64 524.95,229.55 525.33,229.47 525.71,229.38 526.09,229.3 526.46,229.21 526.84,229.12 527.22,229.02 527.6,228.93 527.98,228.84 528.35,228.74 528.73,228.64 529.11,228.54 529.49,228.44 529.87,228.34 530.24,228.24 530.62,228.13 531,228.02 531.38,227.91 531.76,227.8 532.13,227.69 532.51,227.58 532.89,227.46 533.27,227.34 533.65,227.22 534.02,227.1 534.4,226.98 534.78,226.85 535.16,226.72 535.54,226.59 535.91,226.46 536.29,226.33 536.67,226.19 537.05,226.05 537.43,225.91 537.8,225.77 538.18,225.63 538.56,225.48 538.94,225.33 539.32,225.18 539.69,225.02 540.07,224.87 540.45,224.71 540.83,224.55 541.21,224.38 541.58,224.21 541.96,224.04 542.34,223.87 542.72,223.7 543.1,223.52 543.48,223.34 543.85,223.16 544.23,222.97 544.61,222.78 544.99,222.59 545.37,222.39 545.74,222.19 546.12,221.99 546.5,221.79 546.88,221.58 547.26,221.37 547.63,221.15 548.01,220.94 548.39,220.71 548.77,220.49 549.15,220.26 549.52,220.03 549.9,219.79 550.28,219.55 550.66,219.31 551.04,219.06 551.41,218.81 551.79,218.56 552.17,218.3 552.55,218.03 552.93,217.76 553.3,217.49 553.68,217.22 554.06,216.94 554.44,216.65 554.82,216.36 555.19,216.07 555.57,215.77 555.95,215.47 556.33,215.16 556.71,214.84 557.08,214.53 557.46,214.2 557.84,213.87 558.22,213.54 558.6,213.2 558.97,212.86 559.35,212.51 559.73,212.15 560.11,211.79 560.49,211.43 560.86,211.05 561.24,210.67 561.62,210.29 562,209.9 562.38,209.5 562.75,209.1 563.13,208.69 563.51,208.27 563.89,207.85 564.27,207.42 564.64,206.99 565.02,206.54 565.4,206.09 565.78,205.64 566.16,205.17 566.53,204.7 566.91,204.22 567.29,203.74 567.67,203.24 568.05,202.74 568.42,202.23 568.8,201.71 569.18,201.18 569.56,200.65 569.94,200.11 570.31,199.55 570.69,198.99 571.07,198.42 571.45,197.85 571.83,197.26 572.2,196.66 572.58,196.05 572.96,195.44 573.34,194.81 573.72,194.18 574.09,193.53 574.47,192.87 574.85,192.21 575.23,191.53 575.61,190.84 575.98,190.14 576.36,189.43 576.74,188.71 577.12,187.98 577.5,187.23 577.87,186.48 578.25,185.71 578.63,184.93 579.01,184.14 579.39,183.33 579.76,182.51 580.14,181.68 580.52,180.84 580.9,179.98 581.28,179.11 581.65,178.22 582.03,177.32 582.41,176.41 582.79,175.48 583.17,174.54 583.54,173.58 583.92,172.61 584.3,171.62 584.68,170.62 585.06,169.6 585.43,168.56 585.81,167.51 586.19,166.44 586.57,165.35 586.95,164.25 587.32,163.13 587.7,161.99 588.08,160.84 588.46,159.66 588.84,158.47 589.21,157.25 589.59,156.02 589.97,154.77 590.35,153.5 590.73,152.21 591.1,150.9 591.48,149.56 591.86,148.21 592.24,146.83 592.62,145.44 592.99,144.02 593.37,142.58 593.75,141.11 594.13,139.62 594.51,138.11 594.88,136.58 595.26,135.02 595.64,133.43 596.02,131.82 596.4,130.19 596.78,128.53 597.15,126.84 597.53,125.13 597.91,123.38 598.29,121.61 598.67,119.82 599.04,117.99 599.42,116.14 599.8,114.25 600.18,112.34 600.56,110.39 600.93,108.42 601.31,106.41 601.69,104.37 602.07,102.3 602.45,100.2 602.82,98.06 603.2,95.89 603.58,93.69 603.96,91.45 604.34,89.17 604.71,86.86 605.09,84.51 605.47,82.12 605.85,79.7 606.23,77.24 606.6,74.74 606.98,72.2 607.36,69.62 607.74,66.99 608.12,64.33 608.49,61.62 608.87,58.88 609.25,56.08 609.63,53.25 610.01,50.36 610.38,47.44 610.76,44.46 611.14,41.44 611.52,38.37 611.9,35.25 612.27,32.09 612.65,28.87 613.03,25.6 613.41,22.28 613.55,21" stroke="#333" stroke-width="1" fill="none"/>
<path d="M611.52,38.37 611.9,35.25 612.27,32.09 612.65,28.87 613.03,25.6 613.41,22.28 613.55,21" stroke="#222" stroke-width="1.6" fill="none"/>
<path d="M352.2,234.28 352.58,234.27 352.96,234.26 353.33,234.25 353.71,234.24 354.09,234.23 354.47,234.22 354.85,234.21 355.22,234.2 355.6,234.18 355.98,234.17 356.36,234.16 356.74,234.15 357.11,234.14 357.49,234.13 357.87,234.11 358.25,234.1 358.63,234.09 359,234.07 359.38,234.06 359.76,234.05 360.14,234.04 360.52,234.02 360.89,234.01 361.27,233.99 361.65,233.98 362.03,233.96 362.41,233.95 362.78,233.93 363.16,233.92 363.54,233.9 363.92,233.89 364.3,233.87 364.67,233.86 365.05,233.84 365.43,233.82 365.81,233.8 366.19,233.79 366.56,233.77 366.94,233.75 367.32,233.73 367.7,233.71 368.08,233.7 368.45,233.68 368.83,233.66 369.21,233.64 369.59,233.62 369.97,233.6 370.34,233.58 370.72,233.56 371.1,233.53 371.48,233.51 371.86,233.49 372.23,233.47 372.61,233.45 372.99,233.42 373.37,233.4 373.75,233.38 374.12,233.35 374.5,233.33 374.88,233.3 375.26,233.28 375.64,233.25 376.01,233.22 376.39,233.2 376.77,233.17 377.15,233.14 377.53,233.12 377.9,233.09 378.28,233.06 378.66,233.03 379.04,233 379.42,232.97 379.8,232.94 380.17,232.91 380.55,232.88 380.93,232.84 381.31,232.81 381.69,232.78 382.06,232.74 382.44,232.71 382.82,232.68 383.2,232.64 383.58,232.6 383.95,232.57 384.33,232.53 384.71,232.49 385.09,232.46 385.47,232.42 385.84,232.38 386.22,232.34 386.6,232.3 386.98,232.26 387.36,232.21 387.73,232.17 388.11,232.13 388.49,232.08 388.87,232.04 389.25,231.99 389.62,231.95 390,231.9 390.38,231.85 390.76,231.8 391.14,231.76 391.51,231.71 391.89,231.66 392.27,231.6 392.65,231.55 393.03,231.5 393.4,231.44 393.78,231.39 394.16,231.33 394.54,231.28 394.92,231.22 395.29,231.16 395.67,231.1 396.05,231.04 396.43,230.98 396.81,230.92 397.18,230.86 397.56,230.79 397.94,230.73 398.32,230.66 398.7,230.59 399.07,230.52 399.45,230.45 399.83,230.38 400.21,230.31 400.59,230.24 400.96,230.17 401.34,230.09 401.72,230.01 402.1,229.94 402.48,229.86 402.85,229.78 403.23,229.7 403.61,229.61 403.99,229.53 404.37,229.45 404.74,229.36 405.12,229.27 405.5,229.18 405.88,229.09 406.26,229 406.63,228.9 407.01,228.81 407.39,228.71 407.77,228.62 408.15,228.52 408.52,228.41 408.9,228.31 409.28,228.21 409.66,228.1 410.04,227.99 410.41,227.88 410.79,227.77 411.17,227.66 411.55,227.54 411.93,227.43 412.3,227.31 412.68,227.19 413.06,227.07 413.44,226.94 413.82,226.82 414.19,226.69 414.57,226.56 414.95,226.42 415.33,226.29 415.71,226.15 416.08,226.01 416.46,225.87 416.84,225.73 417.22,225.58 417.6,225.44 417.97,225.29 418.35,225.13 418.73,224.98 419.11,224.82 419.49,224.66 419.86,224.5 420.24,224.33 420.62,224.17 421,224 421.38,223.82 421.75,223.65 422.13,223.47 422.51,223.29 422.89,223.1 423.27,222.92 423.64,222.73 424.02,222.53 424.4,222.34 424.78,222.14 425.16,221.94 425.53,221.73 425.91,221.52 426.29,221.31 426.67,221.09 427.05,220.87 427.42,220.65 427.8,220.43 428.18,220.2 428.56,219.96 428.94,219.73 429.31,219.49 429.69,219.24 430.07,218.99 430.45,218.74 430.83,218.48 431.2,218.22 431.58,217.96 431.96,217.69 432.34,217.42 432.72,217.14 433.09,216.86 433.47,216.57 433.85,216.28 434.23,215.99 434.61,215.69 434.99,215.38 435.36,215.07 435.74,214.76 436.12,214.44 436.5,214.11 436.88,213.78 437.25,213.45 437.63,213.11 438.01,212.76 438.39,212.41 438.77,212.05 439.14,211.69 439.52,211.32 439.9,210.95 440.28,210.57 440.66,210.18 441.03,209.79 441.41,209.39 441.79,208.99 442.17,208.58 442.55,208.16 442.92,207.73 443.3,207.3 443.68,206.87 444.06,206.42 444.44,205.97 444.81,205.51 445.19,205.04 445.57,204.57 445.95,204.09 446.33,203.6 446.7,203.1 447.08,202.6 447.46,202.09 447.84,201.57 448.22,201.04 448.59,200.5 448.97,199.95 449.35,199.4 449.73,198.84 450.11,198.26 450.48,197.68 450.86,197.09 451.24,196.49 451.62,195.88 452,195.26 452.37,194.64 452.75,194 453.13,193.35 453.51,192.69 453.89,192.02 454.26,191.34 454.64,190.65 455.02,189.95 455.4,189.23 455.78,188.51 456.15,187.77 456.53,187.02 456.91,186.27 457.29,185.49 457.67,184.71 458.04,183.91 458.42,183.11 458.8,182.28 459.18,181.45 459.56,180.6 459.93,179.74 460.31,178.86 460.69,177.98 461.07,177.07 461.45,176.15 461.82,175.22 462.2,174.28 462.58,173.31 462.96,172.34 463.34,171.34 463.71,170.34 464.09,169.31 464.47,168.27 464.85,167.21 465.23,166.14 465.6,165.05 465.98,163.94 466.36,162.82 466.74,161.67 467.12,160.51 467.49,159.33 467.87,158.13 468.25,156.91 468.63,155.68 469.01,154.42 469.38,153.14 469.76,151.85 470.14,150.53 470.52,149.19 470.9,147.83 471.27,146.45 471.65,145.05 472.03,143.62 472.41,142.17 472.79,140.7 473.16,139.21 473.54,137.69 473.92,136.15 474.3,134.58 474.68,132.99 475.05,131.37 475.43,129.73 475.81,128.06 476.19,126.37 476.57,124.64 476.94,122.9 477.32,121.12 477.7,119.31 478.08,117.48 478.46,115.62 478.83,113.72 479.21,111.8 479.59,109.85 479.97,107.87 480.35,105.85 480.72,103.8 481.1,101.72 481.48,99.61 481.86,97.46 482.24,95.28 482.61,93.07 482.99,90.82 483.37,88.53 483.75,86.21 484.13,83.85 484.5,81.46 484.88,79.02 485.26,76.55 485.64,74.04 486.02,71.48 486.39,68.89 486.77,66.26 487.15,63.58 487.53,60.87 487.91,58.1 488.29,55.3 488.66,52.45 489.04,49.56 489.42,46.62 489.8,43.63 490.18,40.59 490.55,37.51 490.93,34.38 491.31,31.2 491.69,27.97 492.07,24.68 492.44,21.35 492.48,21" stroke="#5050ff" stroke-width="1.0" fill="none"/>
<path d="M352.2,234.47 352.58,234.46 352.96,234.45 353.33,234.45 353.71,234.44 354.09,234.43 354.47,234.43 354.85,234.42 355.22,234.41 355.6,234.4 355.98,234.4 356.36,234.39 356.74,234.38 357.11,234.37 357.49,234.36 357.87,234.35 358.25,234.35 358.63,234.34 359,234.33 359.38,234.32 359.76,234.31 360.14,234.3 360.52,234.29 360.89,234.28 361.27,234.27 361.65,234.26 362.03,234.25 362.41,234.24 362.78,234.23 363.16,234.22 363.54,234.21 363.92,234.2 364.3,234.19 364.67,234.17 365.05,234.16 365.43,234.15 365.81,234.14 366.19,234.13 366.56,234.12 366.94,234.1 367.32,234.09 367.7,234.08 368.08,234.06 368.45,234.05 368.83,234.04 369.21,234.02 369.59,234.01 369.97,234 370.34,233.98 370.72,233.97 371.1,233.95 371.48,233.94 371.86,233.92 372.23,233.91 372.61,233.89 372.99,233.87 373.37,233.86 373.75,233.84 374.12,233.83 374.5,233.81 374.88,233.79 375.26,233.77 375.64,233.76 376.01,233.74 376.39,233.72 376.77,233.7 377.15,233.68 377.53,233.66 377.9,233.64 378.28,233.62 378.66,233.6 379.04,233.58 379.42,233.56 379.8,233.54 380.17,233.52 380.55,233.5 380.93,233.47 381.31,233.45 381.69,233.43 382.06,233.4 382.44,233.38 382.82,233.36 383.2,233.33 383.58,233.31 383.95,233.28 384.33,233.26 384.71,233.23 385.09,233.2 385.47,233.18 385.84,233.15 386.22,233.12 386.6,233.09 386.98,233.06 387.36,233.04 387.73,233.01 388.11,232.98 388.49,232.95 388.87,232.91 389.25,232.88 389.62,232.85 390,232.82 390.38,232.79 390.76,232.75 391.14,232.72 391.51,232.68 391.89,232.65 392.27,232.61 392.65,232.58 393.03,232.54 393.4,232.5 393.78,232.46 394.16,232.43 394.54,232.39 394.92,232.35 395.29,232.31 395.67,232.26 396.05,232.22 396.43,232.18 396.81,232.14 397.18,232.09 397.56,232.05 397.94,232 398.32,231.96 398.7,231.91 399.07,231.86 399.45,231.82 399.83,231.77 400.21,231.72 400.59,231.67 400.96,231.61 401.34,231.56 401.72,231.51 402.1,231.46 402.48,231.4 402.85,231.35 403.23,231.29 403.61,231.23 403.99,231.17 404.37,231.11 404.74,231.05 405.12,230.99 405.5,230.93 405.88,230.87 406.26,230.8 406.63,230.74 407.01,230.67 407.39,230.61 407.77,230.54 408.15,230.47 408.52,230.4 408.9,230.33 409.28,230.26 409.66,230.18 410.04,230.11 410.41,230.03 410.79,229.95 411.17,229.87 411.55,229.8 411.93,229.71 412.3,229.63 412.68,229.55 413.06,229.46 413.44,229.38 413.82,229.29 414.19,229.2 414.57,229.11 414.95,229.02 415.33,228.93 415.71,228.83 416.08,228.73 416.46,228.64 416.84,228.54 417.22,228.44 417.6,228.33 417.97,228.23 418.35,228.12 418.73,228.02 419.11,227.91 419.49,227.8 419.86,227.68 420.24,227.57 420.62,227.45 421,227.33 421.38,227.21 421.75,227.09 422.13,226.97 422.51,226.84 422.89,226.71 423.27,226.58 423.64,226.45 424.02,226.32 424.4,226.18 424.78,226.04 425.16,225.9 425.53,225.76 425.91,225.62 426.29,225.47 426.67,225.32 427.05,225.17 427.42,225.01 427.8,224.86 428.18,224.7 428.56,224.53 428.94,224.37 429.31,224.2 429.69,224.03 430.07,223.86 430.45,223.69 430.83,223.51 431.2,223.33 431.58,223.14 431.96,222.96 432.34,222.77 432.72,222.58 433.09,222.38 433.47,222.18 433.85,221.98 434.23,221.77 434.61,221.57 434.99,221.35 435.36,221.14 435.74,220.92 436.12,220.7 436.5,220.47 436.88,220.25 437.25,220.01 437.63,219.78 438.01,219.54 438.39,219.29 438.77,219.05 439.14,218.79 439.52,218.54 439.9,218.28 440.28,218.02 440.66,217.75 441.03,217.48 441.41,217.2 441.79,216.92 442.17,216.63 442.55,216.34 442.92,216.05 443.3,215.75 443.68,215.45 444.06,215.14 444.44,214.82 444.81,214.51 445.19,214.18 445.57,213.85 445.95,213.52 446.33,213.18 446.7,212.84 447.08,212.49 447.46,212.13 447.84,211.77 448.22,211.4 448.59,211.03 448.97,210.65 449.35,210.27 449.73,209.87 450.11,209.48 450.48,209.07 450.86,208.66 451.24,208.25 451.62,207.83 452,207.4 452.37,206.96 452.75,206.52 453.13,206.07 453.51,205.61 453.89,205.14 454.26,204.67 454.64,204.19 455.02,203.71 455.4,203.21 455.78,202.71 456.15,202.2 456.53,201.68 456.91,201.15 457.29,200.62 457.67,200.07 458.04,199.52 458.42,198.96 458.8,198.39 459.18,197.81 459.56,197.22 459.93,196.62 460.31,196.02 460.69,195.4 461.07,194.77 461.45,194.14 461.82,193.49 462.2,192.83 462.58,192.16 462.96,191.49 463.34,190.8 463.71,190.1 464.09,189.39 464.47,188.67 464.85,187.93 465.23,187.19 465.6,186.43 465.98,185.66 466.36,184.88 466.74,184.09 467.12,183.28 467.49,182.46 467.87,181.63 468.25,180.78 468.63,179.93 469.01,179.05 469.38,178.17 469.76,177.27 470.14,176.35 470.52,175.42 470.9,174.48 471.27,173.52 471.65,172.55 472.03,171.56 472.41,170.55 472.79,169.53 473.16,168.5 473.54,167.44 473.92,166.37 474.3,165.29 474.68,164.18 475.05,163.06 475.43,161.92 475.81,160.76 476.19,159.59 476.57,158.39 476.94,157.18 477.32,155.94 477.7,154.69 478.08,153.42 478.46,152.13 478.83,150.81 479.21,149.48 479.59,148.12 479.97,146.75 480.35,145.35 480.72,143.93 481.1,142.49 481.48,141.02 481.86,139.53 482.24,138.02 482.61,136.48 482.99,134.92 483.37,133.33 483.75,131.72 484.13,130.08 484.5,128.42 484.88,126.73 485.26,125.02 485.64,123.27 486.02,121.5 486.39,119.7 486.77,117.88 487.15,116.02 487.53,114.13 487.91,112.22 488.29,110.27 488.66,108.29 489.04,106.29 489.42,104.25 489.8,102.17 490.18,100.07 490.55,97.93 490.93,95.75 491.31,93.55 491.69,91.3 492.07,89.03 492.44,86.71 492.82,84.36 493.2,81.97 493.58,79.55 493.96,77.08 494.33,74.58 494.71,72.04 495.09,69.45 495.47,66.83 495.85,64.16 496.22,61.45 496.6,58.7 496.98,55.91 497.36,53.07 497.74,50.18 498.11,47.25 498.49,44.27 498.87,41.25 499.25,38.18 499.63,35.06 500,31.89 500.38,28.67 500.76,25.39 501.14,22.07 501.26,21" stroke="#ff5050" stroke-width="1.0" fill="none"/>
<path d="M485.64,74.04 486.02,71.48 486.39,68.89 486.77,66.26 487.15,63.58 487.53,60.87 487.91,58.1 488.29,55.3 488.66,52.45 489.04,49.56 489.42,46.62 489.8,43.63 490.18,40.59 490.55,37.51 490.93,34.38 491.31,31.2 491.69,27.97 492.07,24.68 492.44,21.35 492.48,21" stroke="#3030ff" stroke-width="1.7" fill="none"/>
<path d="M494.33,74.58 494.71,72.04 495.09,69.45 495.47,66.83 495.85,64.16 496.22,61.45 496.6,58.7 496.98,55.91 497.36,53.07 497.74,50.18 498.11,47.25 498.49,44.27 498.87,41.25 499.25,38.18 499.63,35.06 500,31.89 500.38,28.67 500.76,25.39 501.14,22.07 501.26,21" stroke="#ff3030" stroke-width="1.7" fill="none"/>
<rect x="37" y="21.5" width="263.6" height="213.5" stroke="#454545" stroke-width="2" fill="none"/>
<rect x="352.2" y="21.2" width="264.1" height="213.7" stroke="#454545" stroke-width="2" fill="none"/>
<path d="M37,235 v4 M51.64,235 v4 M66.28,235 v4 M80.92,235 v4 M95.56,235 v4 M110.2,235 v4 M124.84,235 v4 M139.48,235 v4 M154.12,235 v4 M168.76,235 v4 M183.4,235 v4 M198.04,235 v4 M212.68,235 v4 M227.32,235 v4 M241.96,235 v4 M256.6,235 v4 M271.24,235 v4 M285.88,235 v4 M300.52,235 v4 M37,216.5 h-4.5 M37,179.1 h-4.5 M37,141.7 h-4.5 M37,104.3 h-4.5 M37,66.9 h-4.5 M37,29.5 h-4.5 M352.2,234.9 v4 M407.5,234.9 v4 M462.8,234.9 v4 M518.1,234.9 v4 M573.4,234.9 v4 M352.2,234.9 h-4.5 M352.2,199.25 h-4.5 M352.2,163.6 h-4.5 M352.2,127.95 h-4.5 M352.2,92.3 h-4.5 M352.2,56.65 h-4.5 M352.2,21 h-4.5" stroke="#3a3a3a" stroke-width="1.2" fill="none"/>
<rect x="495.9" y="6.6" width="6.7" height="1.6" fill="#3a3a3a"/>
<defs><filter id="tb" x="-10%" y="-30%" width="120%" height="160%"><feGaussianBlur stdDeviation="0.3"/></filter></defs>
<g filter="url(#tb)">
<text transform="translate(212.6,48.5) scale(1,1.03)" font-size="11.2" font-family="'Liberation Serif', serif" fill="#1e1e1e" stroke="#1e1e1e" stroke-opacity="0.35" stroke-width="0.8">Helium - Argon</text>
<text transform="translate(215,86) scale(1,1.03)" font-size="11.2" font-family="'Liberation Serif', serif" fill="#1e1e1e" stroke="#1e1e1e" stroke-opacity="0.35" stroke-width="0.8">Helium - Air</text>
<text transform="translate(215.4,136.9) scale(1,1.03)" font-size="11.2" font-family="'Liberation Serif', serif" fill="#1e1e1e" stroke="#1e1e1e" stroke-opacity="0.35" stroke-width="0.8">Air - Air</text>
<text transform="translate(407.7,70.8) scale(1,1.03)" font-size="11.2" font-family="'Liberation Serif', serif" fill="#1e1e1e" stroke="#1e1e1e" stroke-opacity="0.35" stroke-width="0.8">Helium - Argon</text>
<text transform="translate(491.3,125) scale(1,1.03)" font-size="11.2" font-family="'Liberation Serif', serif" fill="#1e1e1e" stroke="#1e1e1e" stroke-opacity="0.35" stroke-width="0.8">Helium - Air</text>
<text transform="translate(531.7,192.6) scale(1,1.03)" font-size="11.2" font-family="'Liberation Serif', serif" fill="#1e1e1e" stroke="#1e1e1e" stroke-opacity="0.35" stroke-width="0.8">Air - Air</text>
<text transform="translate(37,248.8) scale(1,1.03)" text-anchor="middle" font-family="'Liberation Serif', serif" font-size="9.9" fill="#1e1e1e" stroke="#1e1e1e" stroke-opacity="0.25" stroke-width="0.6">1</text>
<text transform="translate(110.2,248.8) scale(1,1.03)" text-anchor="middle" font-family="'Liberation Serif', serif" font-size="9.9" fill="#1e1e1e" stroke="#1e1e1e" stroke-opacity="0.25" stroke-width="0.6">100000</text>
<text transform="translate(183.4,248.8) scale(1,1.03)" text-anchor="middle" font-family="'Liberation Serif', serif" font-size="9.9" fill="#1e1e1e" stroke="#1e1e1e" stroke-opacity="0.25" stroke-width="0.6">1E10</text>
<text transform="translate(256.6,248.8) scale(1,1.03)" text-anchor="middle" font-family="'Liberation Serif', serif" font-size="9.9" fill="#1e1e1e" stroke="#1e1e1e" stroke-opacity="0.25" stroke-width="0.6">1E15</text>
<text transform="translate(30.4,219.6) scale(1,1.03)" text-anchor="end" font-family="'Liberation Serif', serif" font-size="9.9" fill="#1e1e1e" stroke="#1e1e1e" stroke-opacity="0.25" stroke-width="0.6">2</text>
<text transform="translate(30.4,182.2) scale(1,1.03)" text-anchor="end" font-family="'Liberation Serif', serif" font-size="9.9" fill="#1e1e1e" stroke="#1e1e1e" stroke-opacity="0.25" stroke-width="0.6">4</text>
<text transform="translate(30.4,144.8) scale(1,1.03)" text-anchor="end" font-family="'Liberation Serif', serif" font-size="9.9" fill="#1e1e1e" stroke="#1e1e1e" stroke-opacity="0.25" stroke-width="0.6">6</text>
<text transform="translate(30.4,107.4) scale(1,1.03)" text-anchor="end" font-family="'Liberation Serif', serif" font-size="9.9" fill="#1e1e1e" stroke="#1e1e1e" stroke-opacity="0.25" stroke-width="0.6">8</text>
<text transform="translate(30.4,70) scale(1,1.03)" text-anchor="end" font-family="'Liberation Serif', serif" font-size="9.9" fill="#1e1e1e" stroke="#1e1e1e" stroke-opacity="0.25" stroke-width="0.6">10</text>
<text transform="translate(30.4,32.6) scale(1,1.03)" text-anchor="end" font-family="'Liberation Serif', serif" font-size="9.9" fill="#1e1e1e" stroke="#1e1e1e" stroke-opacity="0.25" stroke-width="0.6">12</text>
<text transform="translate(352.2,248.8) scale(1,1.03)" text-anchor="middle" font-family="'Liberation Serif', serif" font-size="9.9" fill="#1e1e1e" stroke="#1e1e1e" stroke-opacity="0.25" stroke-width="0.6">0.1</text>
<text transform="translate(407.5,248.8) scale(1,1.03)" text-anchor="middle" font-family="'Liberation Serif', serif" font-size="9.9" fill="#1e1e1e" stroke="#1e1e1e" stroke-opacity="0.25" stroke-width="0.6">1</text>
<text transform="translate(462.8,248.8) scale(1,1.03)" text-anchor="middle" font-family="'Liberation Serif', serif" font-size="9.9" fill="#1e1e1e" stroke="#1e1e1e" stroke-opacity="0.25" stroke-width="0.6">10</text>
<text transform="translate(518.1,248.8) scale(1,1.03)" text-anchor="middle" font-family="'Liberation Serif', serif" font-size="9.9" fill="#1e1e1e" stroke="#1e1e1e" stroke-opacity="0.25" stroke-width="0.6">100</text>
<text transform="translate(573.4,248.8) scale(1,1.03)" text-anchor="middle" font-family="'Liberation Serif', serif" font-size="9.9" fill="#1e1e1e" stroke="#1e1e1e" stroke-opacity="0.25" stroke-width="0.6">1000</text>
<text transform="translate(345.2,237.9) scale(1,1.03)" text-anchor="end" font-family="'Liberation Serif', serif" font-size="9.9" fill="#1e1e1e" stroke="#1e1e1e" stroke-opacity="0.25" stroke-width="0.6">0.00</text>
<text transform="translate(345.2,202.25) scale(1,1.03)" text-anchor="end" font-family="'Liberation Serif', serif" font-size="9.9" fill="#1e1e1e" stroke="#1e1e1e" stroke-opacity="0.25" stroke-width="0.6">0.05</text>
<text transform="translate(345.2,166.6) scale(1,1.03)" text-anchor="end" font-family="'Liberation Serif', serif" font-size="9.9" fill="#1e1e1e" stroke="#1e1e1e" stroke-opacity="0.25" stroke-width="0.6">0.10</text>
<text transform="translate(345.2,130.95) scale(1,1.03)" text-anchor="end" font-family="'Liberation Serif', serif" font-size="9.9" fill="#1e1e1e" stroke="#1e1e1e" stroke-opacity="0.25" stroke-width="0.6">0.15</text>
<text transform="translate(345.2,95.3) scale(1,1.03)" text-anchor="end" font-family="'Liberation Serif', serif" font-size="9.9" fill="#1e1e1e" stroke="#1e1e1e" stroke-opacity="0.25" stroke-width="0.6">0.20</text>
<text transform="translate(345.2,59.65) scale(1,1.03)" text-anchor="end" font-family="'Liberation Serif', serif" font-size="9.9" fill="#1e1e1e" stroke="#1e1e1e" stroke-opacity="0.25" stroke-width="0.6">0.25</text>
<text transform="translate(345.2,24) scale(1,1.03)" text-anchor="end" font-family="'Liberation Serif', serif" font-size="9.9" fill="#1e1e1e" stroke="#1e1e1e" stroke-opacity="0.25" stroke-width="0.6">0.30</text>
<text transform="translate(42.2,11) scale(1,1.03)" font-size="12" font-family="'Liberation Serif', serif" fill="#1e1e1e" stroke="#1e1e1e" stroke-opacity="0.35" stroke-width="0.8">(a)</text>
<text transform="translate(358,11) scale(1,1.03)" font-size="12" font-family="'Liberation Serif', serif" fill="#1e1e1e" stroke="#1e1e1e" stroke-opacity="0.35" stroke-width="0.8">(b)</text>
<text transform="translate(477.2,10.7) scale(1,1.03)" font-size="11.9" font-family="'Liberation Serif', serif" fill="#1e1e1e" stroke="#1e1e1e" stroke-opacity="0.35" stroke-width="0.8">M</text>
<text transform="translate(487.3,13.9) scale(1,1.03)" font-size="11" font-family="'Liberation Serif', serif" fill="#1e1e1e" stroke="#1e1e1e" stroke-opacity="0.35" stroke-width="0.8">s</text>
<text transform="translate(505.4,10.8) scale(1,1.03)" font-size="12" font-family="'Liberation Serif', serif" fill="#1e1e1e" stroke="#1e1e1e" stroke-opacity="0.35" stroke-width="0.8">4</text>
<text transform="translate(154.8,268.3) scale(1,1.03)" font-size="11.5" font-family="'Liberation Serif', serif" fill="#1e1e1e" stroke="#1e1e1e" stroke-opacity="0.35" stroke-width="0.8">P</text>
<text transform="translate(161.3,270.8) scale(1,1.03)" font-size="9.5" font-family="'Liberation Serif', serif" fill="#1e1e1e" stroke="#1e1e1e" stroke-opacity="0.35" stroke-width="0.8">4</text>
<text transform="translate(166.3,268.3) scale(1,1.03)" font-size="11.5" font-family="'Liberation Serif', serif" fill="#1e1e1e" stroke="#1e1e1e" stroke-opacity="0.35" stroke-width="0.8">/</text>
<text transform="translate(169.9,268.3) scale(1,1.03)" font-size="11.5" font-family="'Liberation Serif', serif" fill="#1e1e1e" stroke="#1e1e1e" stroke-opacity="0.35" stroke-width="0.8">P</text>
<text transform="translate(177.2,270.8) scale(1,1.03)" font-size="9.5" font-family="'Liberation Serif', serif" fill="#1e1e1e" stroke="#1e1e1e" stroke-opacity="0.35" stroke-width="0.8">1</text>
<text transform="translate(462.6,268.3) scale(1,1.03)" font-size="11.5" font-family="'Liberation Serif', serif" fill="#1e1e1e" stroke="#1e1e1e" stroke-opacity="0.35" stroke-width="0.8">P</text>
<text transform="translate(469,271.2) scale(1,1.03)" font-size="10" font-family="'Liberation Serif', serif" fill="#1e1e1e" stroke="#1e1e1e" stroke-opacity="0.35" stroke-width="0.8">4</text>
<text transform="translate(477,268.3) scale(1,1.03)" font-size="11.5" font-family="'Liberation Serif', serif" fill="#1e1e1e" stroke="#1e1e1e" stroke-opacity="0.35" stroke-width="0.8">/</text>
<text transform="translate(484.2,268.3) scale(1,1.03)" font-size="11.5" font-family="'Liberation Serif', serif" fill="#1e1e1e" stroke="#1e1e1e" stroke-opacity="0.35" stroke-width="0.8">MPa</text>
<g transform="translate(8.6,133) rotate(-90) scale(1,1.03)"><text x="0" y="0" font-size="11.3" font-family="'Liberation Serif', serif" fill="#1e1e1e" stroke="#1e1e1e" stroke-opacity="0.35" stroke-width="0.8">M</text><text x="10.6" y="3.6" font-size="10.4" font-family="'Liberation Serif', serif" fill="#1e1e1e" stroke="#1e1e1e" stroke-opacity="0.35" stroke-width="0.8">s</text></g>
<g transform="translate(321.8,150.6) rotate(-90) scale(1,1.03)"><text x="0" y="0" font-size="11.5" font-family="'Liberation Serif', serif" fill="#1e1e1e" stroke="#1e1e1e" stroke-opacity="0.35" stroke-width="0.8">P</text><text x="6.6" y="2.8" font-size="9.5" font-family="'Liberation Serif', serif" fill="#1e1e1e" stroke="#1e1e1e" stroke-opacity="0.35" stroke-width="0.8">1</text><text x="13.6" y="0" font-size="11.5" font-family="'Liberation Serif', serif" fill="#1e1e1e" stroke="#1e1e1e" stroke-opacity="0.35" stroke-width="0.8">/</text><text x="20.3" y="0" font-size="11.5" font-family="'Liberation Serif', serif" fill="#1e1e1e" stroke="#1e1e1e" stroke-opacity="0.35" stroke-width="0.8">MPa</text></g>
</g>
</svg>
</body></html>
